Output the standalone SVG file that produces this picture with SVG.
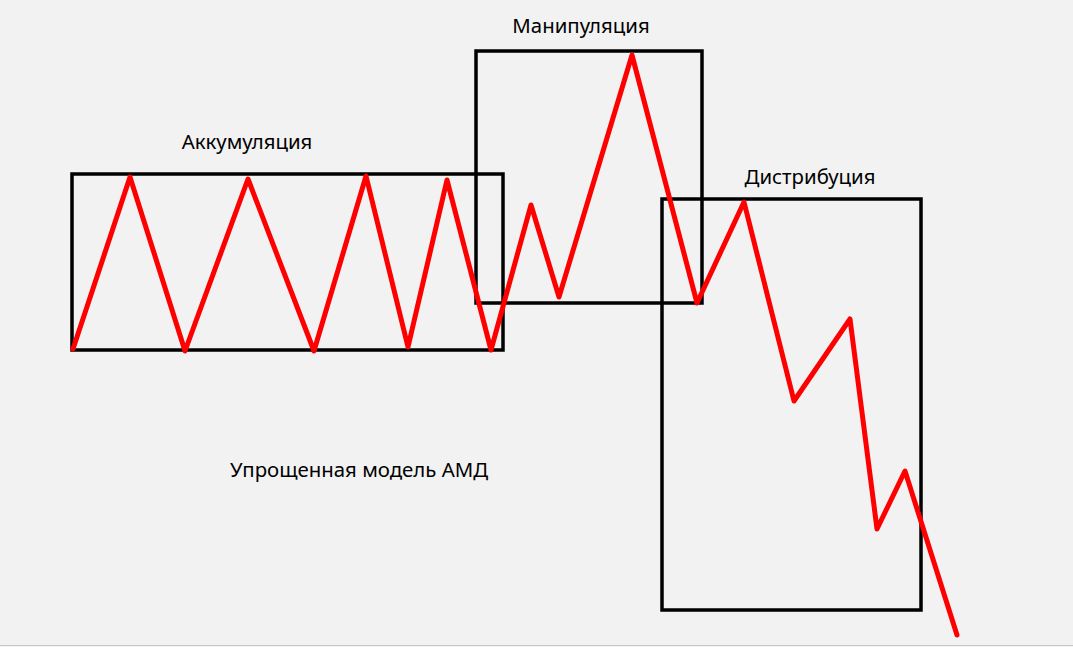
<svg xmlns="http://www.w3.org/2000/svg" width="1073" height="647" viewBox="0 0 1073 647">
<style>
.box{fill:none;stroke:#000;stroke-width:3.5;stroke-linejoin:miter}
.lbl{font-family:"Noto Sans","Open Sans",sans-serif;font-size:20.4px;fill:#000;text-anchor:middle}
.price{fill:none;stroke:#ff0000;stroke-width:5;stroke-linejoin:round;stroke-linecap:round}
</style>
<rect width="1073" height="647" fill="#f2f2f2"/>
<line x1="0" y1="645.5" x2="1073" y2="645.5" stroke="#c8c8c8" stroke-width="1"/>
<g id="accumulation">
<rect class="box" x="72" y="174" width="431" height="176"/>
<text class="lbl" x="247" y="149">Аккумуляция</text>
</g>
<g id="manipulation">
<rect class="box" x="476" y="51" width="226" height="252"/>
<text class="lbl" x="581" y="33">Манипуляция</text>
</g>
<g id="distribution">
<rect class="box" x="662" y="199" width="259" height="411"/>
<text class="lbl" x="810" y="184">Дистрибуция</text>
</g>
<g id="caption">
<text class="lbl" x="359" y="477">Упрощенная модель АМД</text>
</g>
<g id="connectors">
<polyline class="price" points="73,349 130,177 185,351 248,179 314,351 366,176 408,347 447,180 491,350 531,205 559,297 632,55 697,303 744,202 794,401 850,319 877,529 905,471 957,635"/>
</g>
</svg>
